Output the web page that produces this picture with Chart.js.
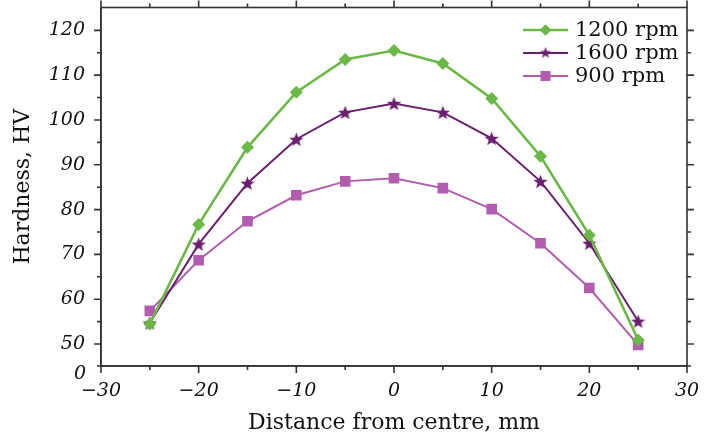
<!DOCTYPE html>
<html><head><meta charset="utf-8">
<script src="https://cdn.jsdelivr.net/npm/chart.js@4/dist/chart.umd.min.js"></script>
<style>html,body{margin:0;padding:0;background:#fff}#wrap{width:705px;height:436px}</style>
</head><body><div id="wrap"><canvas id="c" width="705" height="436"></canvas></div>
<script>
// ---- data ----
const distances = [-25, -20, -15, -10, -5, 0, 5, 10, 15, 20, 25];
const hv1200 = [54.5, 76.7, 93.9, 106.2, 113.5, 115.5, 112.6, 104.8, 91.9, 74.3, 50.9];
const hv1600 = [54.7, 72.3, 85.9, 95.7, 101.7, 103.7, 101.7, 95.9, 86.3, 72.5, 55.1];
const hv900  = [57.4, 68.7, 77.4, 83.2, 86.3, 87.0, 84.8, 80.1, 72.5, 62.5, 49.8];
const seriesNames = ['1200 rpm', '1600 rpm', '900 rpm'];
const xTickValues = [-30, -20, -10, 0, 10, 20, 30];
const xMinorValues = [-25, -15, -5, 5, 15, 25];
const yTickValues = [50, 60, 70, 80, 90, 100, 110, 120];
const yMinorValues = [55, 65, 75, 85, 95, 105, 115];
const yBreakLabel = '0';
const xTitle = 'Distance from centre, mm';
const yTitle = 'Hardness, HV';

const GREEN = '#6ab845', PURPLE = '#6b1e6f', MAGENTA = '#b25cb0';
const AXIS = '#333333';
const TXT = '#111';
const Y_MIN = 45.1, Y_MAX = 125.1;

function starCanvas(color, size) {
  const c = document.createElement('canvas');
  c.width = size; c.height = size;
  const g = c.getContext('2d');
  const cx = size / 2, cy = size / 2 + size * 0.05, R = size / 2, r = R * 0.42;
  g.beginPath();
  for (let i = 0; i < 10; i++) {
    const a = -Math.PI / 2 + i * Math.PI / 5;
    const rr = i % 2 === 0 ? R : r;
    g.lineTo(cx + rr * Math.cos(a), cy + rr * Math.sin(a));
  }
  g.closePath(); g.fillStyle = color; g.fill();
  return c;
}
const starBig = starCanvas(PURPLE, 15);
const starSmall = starCanvas(PURPLE, 12);

const toPts = arr => distances.map((d, i) => ({x: d, y: arr[i]}));

const tickPlugin = {
  id: 'ticksAll',
  afterDraw(chart) {
    const {ctx, chartArea: a, scales: {x, y}} = chart;
    ctx.save();
    ctx.strokeStyle = AXIS; ctx.lineWidth = 1.6;
    const MJ = 7, MN = 4;
    ctx.beginPath();
    const xs = [...xTickValues.map(v => [v, MJ]), ...xMinorValues.map(v => [v, MN])];
    xs.forEach(([v, L]) => {
      const px = x.getPixelForValue(v);
      ctx.moveTo(px, a.bottom); ctx.lineTo(px, a.bottom + L);
      ctx.moveTo(px, a.top); ctx.lineTo(px, a.top - L);
    });
    const ys = [[Y_MIN, 4], ...yTickValues.map(v => [v, MJ]), ...yMinorValues.map(v => [v, MN])];
    ys.forEach(([v, L]) => {
      const py = y.getPixelForValue(v);
      ctx.moveTo(a.left, py); ctx.lineTo(a.left - L, py);
      ctx.moveTo(a.right, py); ctx.lineTo(a.right + L, py);
    });
    ctx.stroke();
    ctx.strokeRect(a.left, a.top, a.right - a.left, a.bottom - a.top);
    // broken-axis bottom label
    ctx.fillStyle = TXT;
    ctx.font = 'italic 19px "DejaVu Serif"';
    ctx.textAlign = 'right'; ctx.textBaseline = 'middle';
    ctx.fillText(yBreakLabel, a.left - 15, y.getPixelForValue(Y_MIN) + 8);
    ctx.restore();
  }
};

const legendPlugin = {
  id: 'insideLegend',
  afterDraw(chart) {
    const {ctx} = chart;
    ctx.save();
    const x0 = 523, x1 = 568, tx = 575, rows = [30, 53, 76];
    chart.data.datasets.forEach((ds, i) => {
      const yy = rows[i];
      ctx.strokeStyle = ds.borderColor; ctx.lineWidth = ds.borderWidth;
      ctx.beginPath(); ctx.moveTo(x0, yy); ctx.lineTo(x1, yy); ctx.stroke();
      const mx = (x0 + x1) / 2;
      ctx.fillStyle = ds.backgroundColor;
      if (ds.pointStyle === 'rectRot') {
        Chart.helpers.drawPoint(ctx, {pointStyle: 'rectRot', radius: 5.5, borderWidth: 0}, mx, yy);
        ctx.fill();
      } else if (ds.pointStyle === 'rect') {
        ctx.fillRect(mx - 5, yy - 5, 10, 10);
      } else {
        ctx.drawImage(starSmall, mx - 6, yy - 6.5);
      }
      ctx.fillStyle = TXT;
      ctx.font = '21px "DejaVu Serif"';
      ctx.textBaseline = 'middle'; ctx.textAlign = 'left';
      ctx.fillText(ds.label, tx, yy + 1);
    });
    ctx.restore();
  }
};

new Chart(document.getElementById('c'), {
  type: 'line',
  data: {
    datasets: [
      {label: seriesNames[0], data: toPts(hv1200), borderColor: GREEN, backgroundColor: GREEN,
       borderWidth: 2.6, pointStyle: 'rectRot', pointRadius: 6.5, pointBorderWidth: 0, tension: 0},
      {label: seriesNames[1], data: toPts(hv1600), borderColor: PURPLE, backgroundColor: PURPLE,
       borderWidth: 2, pointStyle: starBig, pointRadius: 7, pointBorderWidth: 0, tension: 0},
      {label: seriesNames[2], data: toPts(hv900), borderColor: MAGENTA, backgroundColor: MAGENTA,
       borderWidth: 2, pointStyle: 'rect', pointRadius: 7.5, pointBorderWidth: 0, tension: 0}
    ]
  },
  options: {
    responsive: false, animation: false, devicePixelRatio: 1,
    layout: {padding: {left: 0, right: 18, top: 7, bottom: 0}},
    plugins: {legend: {display: false}, tooltip: {enabled: false}},
    scales: {
      x: {
        type: 'linear', min: -30, max: 30,
        afterBuildTicks: s => { s.ticks = xTickValues.map(v => ({value: v})); },
        afterFit: s => { s.height = 70; s.paddingLeft = 0; s.paddingRight = 0; },
        grid: {display: false},
        border: {display: true, color: AXIS, width: 1.6},
        ticks: {
          color: TXT, padding: 6, maxRotation: 0,
          font: {family: 'DejaVu Serif', size: 19, style: 'italic'},
          callback: v => (v < 0 ? '\u2212' + Math.abs(v) : String(v))
        },
        title: {display: true, text: xTitle, color: TXT,
          font: {family: 'DejaVu Serif', size: 22}, padding: {top: 6, bottom: 0}}
      },
      y: {
        type: 'linear', min: Y_MIN, max: Y_MAX,
        afterBuildTicks: s => { s.ticks = yTickValues.map(v => ({value: v})); },
        afterFit: s => { s.width = 101; s.paddingTop = 0; s.paddingBottom = 0; },
        grid: {display: false},
        border: {display: true, color: AXIS, width: 1.6},
        ticks: {
          color: TXT, padding: 8,
          font: {family: 'DejaVu Serif', size: 19, style: 'italic'},
          callback: v => String(v)
        },
        title: {display: true, text: yTitle, color: TXT,
          font: {family: 'DejaVu Serif', size: 22}, padding: {top: 10, bottom: 0}}
      }
    }
  },
  plugins: [tickPlugin, legendPlugin]
});
</script>
</body></html>
